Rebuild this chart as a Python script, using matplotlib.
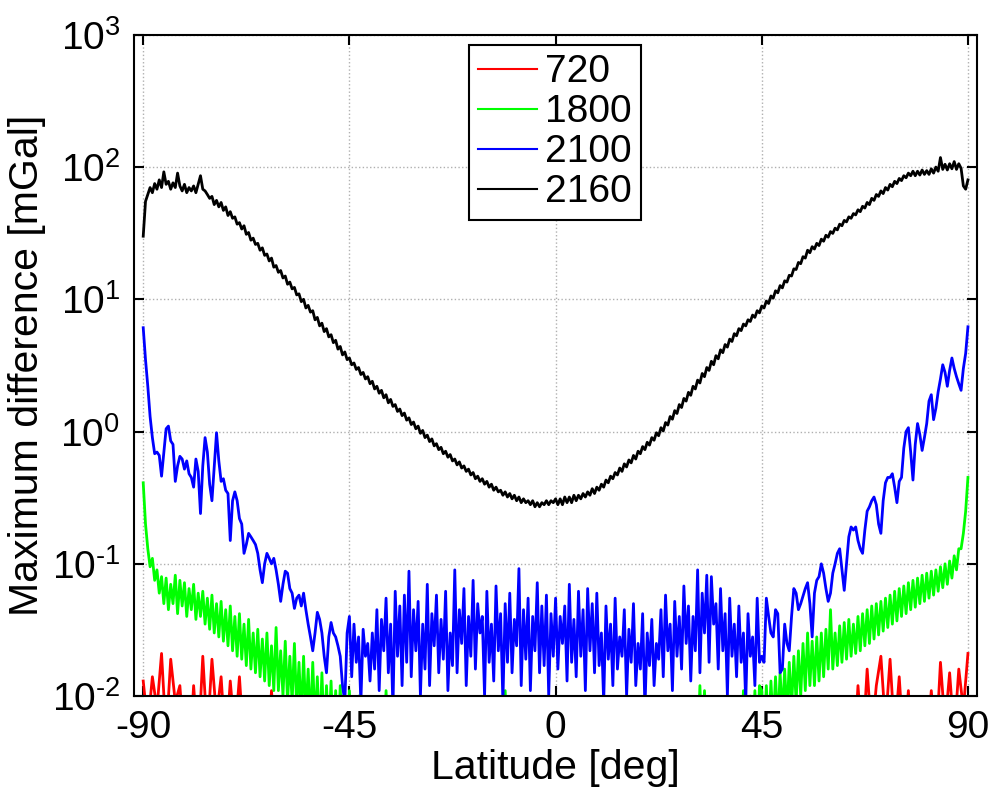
import numpy as np
import matplotlib
matplotlib.use("Agg")
import matplotlib.pyplot as plt
from matplotlib.ticker import FuncFormatter, NullLocator

plt.rcParams['font.family'] = ['Liberation Sans', 'DejaVu Sans']
plt.rcParams['mathtext.fontset'] = 'custom'
plt.rcParams['mathtext.rm'] = 'Liberation Sans'
plt.rcParams['mathtext.it'] = 'Liberation Sans:italic'
plt.rcParams['mathtext.bf'] = 'Liberation Sans:bold'

# latitude grids
lat_half = np.arange(-90, 90.25, 0.5)   # 0.5 deg sampling
lat_one = np.arange(-90, 91, 1)         # 1 deg sampling

# degree 2160 (black), 0.5 deg
deg2160 = [30, 55, 62, 70, 64, 75, 68, 80, 70, 92, 74, 78, 68, 76, 70, 90, 72, 66, 74, 64,
           70, 66, 72, 64, 74, 86, 68, 66, 62, 58, 60, 52, 56, 50, 54, 47, 50, 43, 46, 41,
           42, 37, 38, 34, 36, 31, 32, 28, 29, 26, 26.5, 23.5, 24.5, 21.5, 22, 19.5, 20.5, 17.5, 18, 16,
           16.5, 14.5, 15, 13, 13.5, 12, 12.3, 10.8, 11.0, 9.6, 10.0, 8.6, 9.0, 8.0, 8.2, 7.0, 7.3, 6.3, 6.6, 5.7,
           6.0, 5.2, 5.4, 4.7, 4.9, 4.2, 4.4, 3.8, 4.0, 3.5, 3.6, 3.2, 3.3, 2.95, 3.05, 2.7, 2.8, 2.5, 2.6, 2.3,
           2.4, 2.1, 2.2, 1.95, 2.05, 1.8, 1.9, 1.65, 1.75, 1.55, 1.6, 1.42, 1.48, 1.32, 1.38, 1.22, 1.27, 1.13, 1.18, 1.05,
           1.1, 0.97, 1.02, 0.9, 0.94, 0.84, 0.88, 0.78, 0.81, 0.73, 0.76, 0.68, 0.71, 0.64, 0.67, 0.6, 0.62, 0.56, 0.59, 0.53,
           0.55, 0.5, 0.52, 0.47, 0.49, 0.44, 0.46, 0.42, 0.44, 0.4, 0.42, 0.38, 0.4, 0.36, 0.38, 0.35, 0.36, 0.33, 0.35, 0.32,
           0.34, 0.31, 0.33, 0.3, 0.32, 0.29, 0.31, 0.29, 0.3, 0.28, 0.3, 0.27, 0.29, 0.27, 0.29, 0.28, 0.3, 0.28, 0.3, 0.29,
           0.31, 0.28, 0.31, 0.28, 0.32, 0.29, 0.32, 0.29, 0.33, 0.30, 0.33, 0.31, 0.34, 0.32, 0.35, 0.33, 0.37, 0.34, 0.38, 0.36,
           0.40, 0.38, 0.43, 0.41, 0.46, 0.44, 0.49, 0.47, 0.53, 0.5, 0.57, 0.54, 0.61, 0.58, 0.66, 0.62, 0.71, 0.68, 0.77, 0.73,
           0.83, 0.79, 0.9, 0.86, 0.98, 0.93, 1.07, 1.01, 1.17, 1.12, 1.3, 1.24, 1.44, 1.37, 1.6, 1.52, 1.78, 1.7, 1.98, 1.88,
           2.2, 2.1, 2.45, 2.33, 2.75, 2.6, 3.05, 2.9, 3.4, 3.2, 3.75, 3.55, 4.15, 3.95, 4.55, 4.35, 5.0, 4.8, 5.5, 5.3,
           6.0, 5.8, 6.5, 6.3, 7.0, 6.8, 7.6, 7.3, 8.2, 7.9, 8.9, 8.6, 9.7, 9.3, 10.6, 10.2, 11.6, 11.2, 12.7, 12.2,
           13.8, 13.5, 15.2, 15.0, 17, 16.8, 19, 18.6, 21, 20.5, 23.5, 22.5, 25, 24, 26.5, 25.5, 28.5, 27.5, 30.5, 29.5,
           32.5, 31.5, 34.5, 33.5, 37, 36, 39.5, 38.5, 42, 41, 44.5, 43.5, 47.5, 46, 50.5, 49, 54, 52, 58, 56,
           62, 60, 66, 63, 70, 67, 74, 71, 78, 75, 82, 79, 86, 83, 90, 86, 93, 86, 93, 87,
           95, 88, 94, 88, 97, 90, 100, 93, 118, 96, 105, 95, 106, 97, 110, 96, 106, 98, 72, 68,
           80]

# degree 2100 (blue), 0.5 deg
deg2100 = [6.1, 3.5, 2.2, 1.3, 0.9, 0.68, 0.70, 0.66, 0.46, 0.7, 1.05, 1.1, 0.85, 0.8, 0.42, 0.55, 0.65, 0.62, 0.52, 0.6,
           0.48, 0.45, 0.38, 0.62, 0.5, 0.24, 0.55, 0.9, 0.7, 0.4, 0.3, 0.55, 0.98, 0.6, 0.42, 0.44, 0.36, 0.34, 0.15, 0.3,
           0.35, 0.3, 0.22, 0.2, 0.12, 0.14, 0.17, 0.16, 0.15, 0.14, 0.12, 0.09, 0.072, 0.1, 0.12, 0.11, 0.1, 0.11, 0.09, 0.07,
           0.052, 0.07, 0.088, 0.085, 0.065, 0.06, 0.046, 0.055, 0.058, 0.048, 0.060, 0.045, 0.035, 0.028, 0.022, 0.03, 0.043, 0.038, 0.030, 0.02,
           0.015, 0.028, 0.036, 0.03, 0.028, 0.024, 0.020, 0.012, 0.009, 0.03, 0.040,
           0.014, 0.035, 0.018, 0.028, 0.009, 0.032, 0.020, 0.025, 0.013, 0.030, 0.016, 0.045, 0.011, 0.038, 0.022, 0.055, 0.015, 0.035, 0.008, 0.062,
           0.020, 0.048, 0.012, 0.058, 0.018, 0.088, 0.014, 0.045, 0.022, 0.052, 0.010, 0.035, 0.016, 0.070, 0.012, 0.042, 0.024, 0.058, 0.015, 0.038,
           0.019, 0.062, 0.011, 0.030, 0.017, 0.090, 0.015, 0.045, 0.025, 0.065, 0.012, 0.040, 0.020, 0.075, 0.016, 0.050, 0.030, 0.040, 0.010, 0.062,
           0.018, 0.035, 0.013, 0.068, 0.022, 0.042, 0.009, 0.050, 0.018, 0.060, 0.015, 0.038, 0.024, 0.092, 0.012, 0.045, 0.019, 0.055, 0.011, 0.040,
           0.022, 0.072, 0.015, 0.048, 0.017, 0.058, 0.010, 0.042, 0.020, 0.055, 0.016, 0.040, 0.025, 0.048, 0.013, 0.070, 0.018, 0.038, 0.014, 0.062,
           0.020, 0.045, 0.011, 0.065, 0.022, 0.050, 0.015, 0.060, 0.017, 0.030, 0.009, 0.048, 0.019, 0.035, 0.012, 0.055, 0.016, 0.028, 0.020, 0.045,
           0.010, 0.032, 0.018, 0.050, 0.012, 0.025, 0.016, 0.042, 0.008, 0.030, 0.017, 0.038, 0.012, 0.025, 0.019, 0.045, 0.014, 0.058, 0.022, 0.035,
           0.011, 0.052, 0.020, 0.040, 0.016, 0.068, 0.025, 0.048, 0.013, 0.040, 0.022, 0.090, 0.015, 0.060, 0.030, 0.082, 0.018, 0.080, 0.035, 0.050,
           0.016, 0.065, 0.022, 0.042, 0.010, 0.055, 0.020, 0.035, 0.014, 0.048, 0.018, 0.030, 0.009, 0.042, 0.020, 0.028, 0.012, 0.055, 0.018,
           0.020, 0.018, 0.055, 0.04, 0.030, 0.028, 0.045, 0.042, 0.015, 0.016, 0.035, 0.025, 0.022, 0.04, 0.065, 0.06, 0.045, 0.05, 0.057, 0.065,
           0.072, 0.05, 0.028, 0.06, 0.075, 0.08, 0.10, 0.085, 0.065, 0.052, 0.06, 0.085, 0.10, 0.12, 0.13, 0.09, 0.063, 0.1, 0.16, 0.19,
           0.18, 0.19, 0.15, 0.13, 0.12, 0.18, 0.25, 0.27, 0.30, 0.32, 0.28, 0.2, 0.17, 0.3, 0.41, 0.45, 0.45, 0.48, 0.38, 0.29,
           0.42, 0.45, 0.75, 1.0, 1.07, 0.7, 0.43, 0.8, 1.15, 0.95, 0.72, 0.9, 1.15, 1.7, 1.9, 1.23, 1.5, 2.0, 2.5, 3.2,
           2.8, 2.2, 2.9, 3.6, 3.0, 2.6, 2.3, 2.05, 3.0, 3.9, 6.2]

# degree 1800 (green), 0.5 deg
deg1800 = [0.41, 0.2, 0.13, 0.095, 0.11, 0.075, 0.09, 0.06, 0.08, 0.05, 0.078, 0.045, 0.07, 0.05, 0.082, 0.042, 0.075, 0.048, 0.072, 0.04,
           0.065, 0.045, 0.07, 0.038, 0.06, 0.04, 0.062, 0.035, 0.055, 0.032, 0.058, 0.03, 0.05, 0.028, 0.052, 0.026, 0.045, 0.024, 0.048, 0.022,
           0.04, 0.02, 0.042, 0.019, 0.035, 0.017, 0.038, 0.016, 0.03, 0.015, 0.032, 0.014, 0.027, 0.013, 0.03, 0.012, 0.024, 0.011, 0.033, 0.011,
           0.022, 0.01, 0.026, 0.009, 0.02, 0.009, 0.025, 0.008, 0.018, 0.007, 0.02, 0.007, 0.016, 0.006, 0.018, 0.006, 0.014, 0.005, 0.015, 0.005,
           0.012, 0.005, 0.013, 0.004, 0.011, 0.004, 0.012, 0.004, 0.010, 0.004, 0.011,
           0.004, 0.005, 0.004, 0.010, 0.004, 0.004, 0.004, 0.005, 0.004, 0.004, 0.004, 0.004, 0.005, 0.004, 0.004, 0.011, 0.004, 0.004, 0.004, 0.005,
           0.004, 0.004, 0.004, 0.004, 0.005, 0.004, 0.004, 0.004, 0.004, 0.004, 0.004, 0.005, 0.004, 0.004, 0.004, 0.004, 0.004, 0.005, 0.004, 0.004,
           0.004, 0.004, 0.004, 0.004, 0.005, 0.004, 0.004, 0.004, 0.004, 0.004, 0.004, 0.004, 0.004, 0.005, 0.004, 0.004, 0.004, 0.004, 0.004, 0.004,
           0.004, 0.004, 0.004, 0.004, 0.004, 0.004, 0.004, 0.011, 0.004, 0.004, 0.004, 0.004, 0.004, 0.004, 0.005, 0.004, 0.004, 0.004, 0.004, 0.004,
           0.004, 0.004, 0.004, 0.004, 0.004, 0.004, 0.004, 0.004, 0.004, 0.004, 0.004, 0.004, 0.004, 0.004, 0.004, 0.004, 0.004, 0.004, 0.004, 0.004,
           0.004, 0.004, 0.004, 0.004, 0.004, 0.004, 0.004, 0.004, 0.004, 0.004, 0.004, 0.004, 0.004, 0.004, 0.004, 0.004, 0.004, 0.004, 0.004, 0.004,
           0.004, 0.004, 0.004, 0.004, 0.004, 0.004, 0.004, 0.004, 0.004, 0.004, 0.004, 0.004, 0.004, 0.004, 0.004, 0.004, 0.004, 0.004, 0.004, 0.004,
           0.004, 0.004, 0.004, 0.004, 0.004, 0.004, 0.004, 0.004, 0.004, 0.004, 0.004, 0.004, 0.012, 0.004, 0.011, 0.004, 0.004, 0.004, 0.004, 0.004,
           0.004, 0.004, 0.004, 0.004, 0.004, 0.004, 0.004, 0.004, 0.004, 0.004, 0.004, 0.011, 0.004, 0.004, 0.010, 0.004, 0.011, 0.004, 0.012,
           0.011, 0.005, 0.012, 0.005, 0.013, 0.006, 0.014, 0.006, 0.015, 0.007, 0.016, 0.007, 0.018, 0.008, 0.02, 0.009, 0.022, 0.01, 0.025, 0.011,
           0.03, 0.012, 0.026, 0.012, 0.028, 0.013, 0.03, 0.014, 0.032, 0.016, 0.045, 0.016, 0.03, 0.017, 0.034, 0.018, 0.036, 0.019, 0.038, 0.02,
           0.035, 0.021, 0.04, 0.022, 0.042, 0.024, 0.045, 0.025, 0.048, 0.027, 0.05, 0.029, 0.052, 0.031, 0.055, 0.033, 0.058, 0.035, 0.062, 0.037,
           0.065, 0.04, 0.068, 0.042, 0.072, 0.045, 0.075, 0.047, 0.078, 0.05, 0.082, 0.052, 0.085, 0.055, 0.088, 0.058, 0.09, 0.062, 0.095, 0.066,
           0.1, 0.07, 0.105, 0.078, 0.115, 0.09, 0.13, 0.13, 0.17, 0.25, 0.45]

# degree 720 (red), 1 deg
deg720 = [0.013, 0.006, 0.014, 0.008, 0.021, 0.005, 0.019, 0.009, 0.012, 0.004, 0.003, 0.012, 0.004, 0.02, 0.005, 0.019, 0.007, 0.014, 0.004, 0.013,
          0.005, 0.014, 0.004, 0.003, 0.003, 0.004, 0.003, 0.003, 0.011, 0.003, 0.003, 0.003, 0.004, 0.003, 0.003, 0.003, 0.003, 0.003, 0.003, 0.003,
          0.003, 0.003, 0.003, 0.003, 0.003, 0.003, 0.003, 0.003, 0.003, 0.003, 0.003, 0.003, 0.003, 0.003, 0.003, 0.003, 0.003, 0.003, 0.003, 0.003,
          0.003, 0.003, 0.003, 0.003, 0.003, 0.003, 0.003, 0.003, 0.003, 0.003, 0.003, 0.003, 0.003, 0.003, 0.003, 0.003, 0.003, 0.003, 0.003, 0.003,
          0.003, 0.003, 0.003, 0.003, 0.003, 0.003, 0.003, 0.003, 0.003, 0.003, 0.003, 0.003, 0.003, 0.003, 0.003, 0.003, 0.003, 0.003, 0.003, 0.003,
          0.003, 0.003, 0.003, 0.003, 0.003, 0.003, 0.003, 0.003, 0.003, 0.003, 0.003, 0.003, 0.003, 0.003, 0.003, 0.003, 0.003, 0.003, 0.003, 0.003,
          0.003, 0.003, 0.003, 0.003, 0.003, 0.003, 0.003, 0.003, 0.003, 0.003, 0.003, 0.003, 0.003, 0.003, 0.003, 0.003, 0.003, 0.003, 0.003, 0.003,
          0.003, 0.003, 0.003, 0.003, 0.003, 0.003, 0.003, 0.003, 0.003, 0.003, 0.003, 0.003, 0.003, 0.003, 0.003, 0.003, 0.012, 0.004, 0.016, 0.005,
          0.012, 0.02, 0.006, 0.019, 0.005, 0.014, 0.004, 0.011, 0.003, 0.003, 0.003, 0.004, 0.011, 0.004, 0.018, 0.006, 0.015, 0.005, 0.016, 0.008,
          0.021]

series_labels = ['720', '1800', '2100', '2160']
series_colors = ['#ff0000', '#00ff00', '#0000ff', '#000000']
xticks = [-90, -45, 0, 45, 90]

for name, arr, grid in [('2160', deg2160, lat_half), ('2100', deg2100, lat_half),
                        ('1800', deg1800, lat_half), ('720', deg720, lat_one)]:
    if len(arr) != len(grid):
        raise SystemExit(f"length mismatch {name}: {len(arr)} vs {len(grid)}")

fig = plt.figure(figsize=(9.93, 7.91), dpi=100)
ax = fig.add_axes([0.135, 0.120, 0.849, 0.836])

series = [(lat_one, deg720), (lat_half, deg1800), (lat_half, deg2100), (lat_half, deg2160)]
for (xs, vals), lab, col in zip(series, series_labels, series_colors):
    ax.plot(xs, vals, color=col, lw=2.0, label=lab)


def log_fmt(v, pos):
    e = int(round(np.log10(v)))
    if e < 0:
        return r'$\mathregular{10^{\text{-}%d}}$' % (-e)
    return r'$\mathregular{10^{%d}}$' % e


ax.set_yscale('log')
ax.set_ylim(1e-2, 1e3)
ax.set_xlim(-92, 92)
ax.set_xticks(xticks)
ax.set_xticklabels([str(t) for t in xticks])
ax.yaxis.set_minor_locator(NullLocator())
ax.yaxis.set_major_formatter(FuncFormatter(log_fmt))
ax.grid(True, which='major', color='#b0b0b0', linestyle=':', linewidth=1.0)
ax.tick_params(which='major', direction='in', length=7, width=1.5, top=True, right=True,
               labelsize=28, pad=10)
for s in ax.spines.values():
    s.set_linewidth(1.5)

ax.set_xlabel('Latitude [deg]', fontsize=29.5, labelpad=2)
ax.set_ylabel('Maximum difference [mGal]', fontsize=29.5, labelpad=4)

leg = ax.legend(loc='upper left', bbox_to_anchor=(0.397, 0.985), fontsize=28,
                frameon=True, fancybox=False, framealpha=1, edgecolor='black',
                handlelength=1.5, handletextpad=0.2, labelspacing=0.1,
                borderpad=0.25, borderaxespad=0)
leg.get_frame().set_linewidth(1.5)
for h in leg.get_lines():
    h.set_linewidth(1.5)

fig.savefig('out.png', dpi=100)
